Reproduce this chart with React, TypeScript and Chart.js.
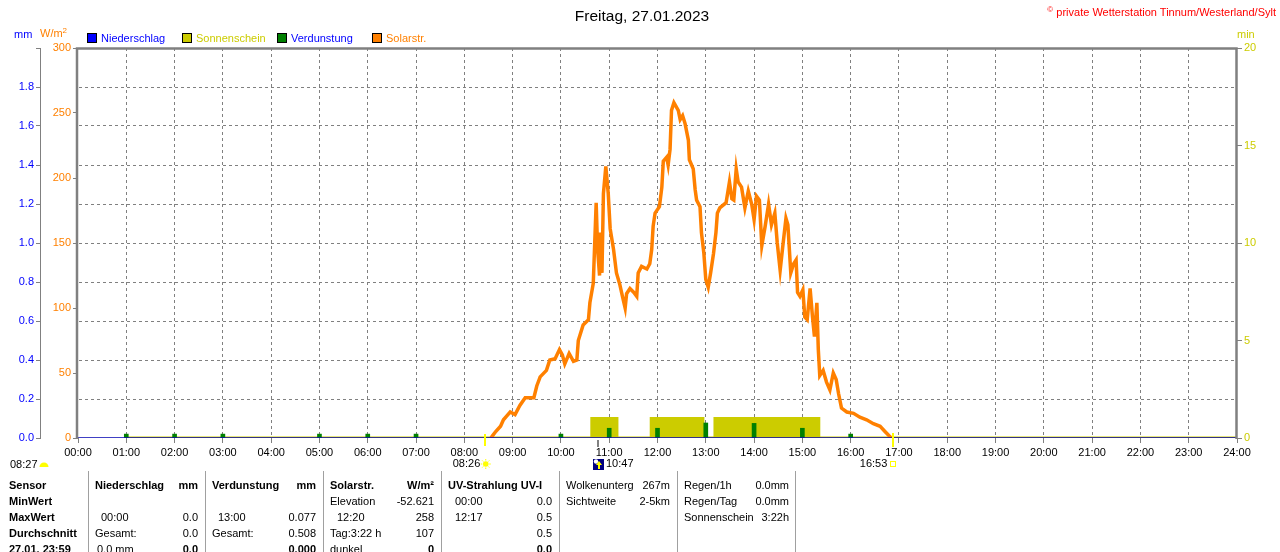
import React, { useEffect, useRef } from 'react';
import { Chart, registerables } from 'chart.js';

Chart.register(...registerables);

const FONT = '"Liberation Sans", Arial, Helvetica, sans-serif';
const FS = 11;

// ---- data (hours of day as decimal) ----
const solarTimes = [
  8.55, 8.59, 8.65, 8.75, 8.81, 8.88, 8.95, 9.05, 9.15, 9.26, 9.44, 9.5, 9.57, 9.7, 9.77, 9.88, 9.97,
  10.03, 10.08, 10.17, 10.26, 10.33, 10.36, 10.46, 10.57, 10.6, 10.67, 10.7, 10.73, 10.76, 10.8, 10.82,
  10.85, 10.88, 10.93, 10.98, 11.02, 11.09, 11.15, 11.22, 11.28, 11.33, 11.36, 11.43, 11.51, 11.57,
  11.6, 11.67, 11.78, 11.84, 11.88, 11.91, 11.95, 12.04, 12.09, 12.12, 12.19, 12.22, 12.26, 12.29,
  12.34, 12.43, 12.47, 12.52, 12.57, 12.64, 12.66, 12.74, 12.78, 12.81, 12.88, 12.91, 12.96, 13.0,
  13.05, 13.1, 13.16, 13.21, 13.24, 13.29, 13.42, 13.49, 13.54, 13.58, 13.63, 13.67, 13.74, 13.81,
  13.88, 13.95, 14.0, 14.05, 14.11, 14.16, 14.23, 14.3, 14.36, 14.43, 14.48, 14.54, 14.59, 14.66,
  14.7, 14.76, 14.82, 14.87, 14.9, 14.95, 15.01, 15.05, 15.1, 15.16, 15.21, 15.25, 15.3, 15.33,
  15.36, 15.43, 15.5, 15.57, 15.64, 15.7, 15.75, 15.81, 15.92, 16.06, 16.19, 16.33, 16.47, 16.61,
  16.71, 16.8, 16.85,
];
const solarValues = [
  0, 2, 5, 9, 14, 17, 20, 18, 25, 31, 31, 40, 47, 52, 60, 61, 68,
  64, 57, 65, 59, 60, 75, 87, 91, 104, 119, 150, 181, 145, 125, 158,
  127, 188, 209, 188, 161, 145, 127, 118, 108, 100, 111, 115, 112, 109,
  127, 132, 130, 134, 145, 163, 173, 178, 193, 213, 216, 210, 222, 252,
  258, 252, 245, 248, 242, 229, 214, 207, 191, 183, 178, 158, 142, 122,
  116, 127, 142, 158, 173, 177, 181, 197, 184, 183, 207, 197, 193, 177,
  190, 180, 168, 186, 183, 148, 163, 180, 164, 173, 150, 129, 146, 169,
  164, 127, 134, 137, 112, 109, 114, 93, 91, 115, 93, 78, 104, 68,
  48, 52, 43, 37, 50, 45, 34, 23, 20, 19, 16, 14, 11, 9,
  5, 1.5, 0,
];

const evapTimes = [1, 2, 3, 5, 6, 7, 10, 11, 12, 13, 14, 15, 16];
const evapValues = [0.02, 0.02, 0.02, 0.02, 0.02, 0.02, 0.02, 0.05, 0.05, 0.077, 0.075, 0.05, 0.02];

const sunStart = [10.64, 11.87, 13.19];
const sunEnd = [11.16, 12.94, 15.34];
const sunMinutes = [1, 1, 1];
const sunSeriesRange = [1, 24];

const precipTimes = [0, 24];
const precipValues = [0, 0];

const markerSunrise = '08:26';
const markerMid = '10:47';
const markerSunset = '16:53';
const dawnLabel = '08:27';

const legendItems = [
  { label: 'Niederschlag', box: '#0000FF', text: '#0000FF', x: 87 },
  { label: 'Sonnenschein', box: '#CCCC00', text: '#CCCC00', x: 182 },
  { label: 'Verdunstung', box: '#008000', text: '#0000FF', x: 277 },
  { label: 'Solarstr.', box: '#FF8000', text: '#FF8000', x: 372 },
];

const separators = [88, 205, 323, 441, 559, 677, 795];
const rowY = [485, 501, 517, 533, 549];

type Cell = { t: string; x: number; r: number; right?: boolean; b?: boolean };
const tableCells: Cell[] = [
  { t: 'Sensor', x: 9, r: 0, b: true },
  { t: 'MinWert', x: 9, r: 1, b: true },
  { t: 'MaxWert', x: 9, r: 2, b: true },
  { t: 'Durchschnitt', x: 9, r: 3, b: true },
  { t: '27.01. 23:59', x: 9, r: 4, b: true },

  { t: 'Niederschlag', x: 95, r: 0, b: true },
  { t: 'mm', x: 198, r: 0, b: true, right: true },
  { t: '00:00', x: 101, r: 2 },
  { t: '0.0', x: 198, r: 2, right: true },
  { t: 'Gesamt:', x: 95, r: 3 },
  { t: '0.0', x: 198, r: 3, right: true },
  { t: '0.0 mm', x: 97, r: 4 },
  { t: '0.0', x: 198, r: 4, right: true, b: true },

  { t: 'Verdunstung', x: 212, r: 0, b: true },
  { t: 'mm', x: 316, r: 0, b: true, right: true },
  { t: '13:00', x: 218, r: 2 },
  { t: '0.077', x: 316, r: 2, right: true },
  { t: 'Gesamt:', x: 212, r: 3 },
  { t: '0.508', x: 316, r: 3, right: true },
  { t: '0.000', x: 316, r: 4, right: true, b: true },

  { t: 'Solarstr.', x: 330, r: 0, b: true },
  { t: 'W/m²', x: 434, r: 0, b: true, right: true },
  { t: 'Elevation', x: 330, r: 1 },
  { t: '-52.621', x: 434, r: 1, right: true },
  { t: '12:20', x: 337, r: 2 },
  { t: '258', x: 434, r: 2, right: true },
  { t: 'Tag:3:22 h', x: 330, r: 3 },
  { t: '107', x: 434, r: 3, right: true },
  { t: 'dunkel', x: 330, r: 4 },
  { t: '0', x: 434, r: 4, right: true, b: true },

  { t: 'UV-Strahlung UV-I', x: 448, r: 0, b: true },
  { t: '00:00', x: 455, r: 1 },
  { t: '0.0', x: 552, r: 1, right: true },
  { t: '12:17', x: 455, r: 2 },
  { t: '0.5', x: 552, r: 2, right: true },
  { t: '0.5', x: 552, r: 3, right: true },
  { t: '0.0', x: 552, r: 4, right: true, b: true },

  { t: 'Wolkenunterg', x: 566, r: 0 },
  { t: '267m', x: 670, r: 0, right: true },
  { t: 'Sichtweite', x: 566, r: 1 },
  { t: '2-5km', x: 670, r: 1, right: true },

  { t: 'Regen/1h', x: 684, r: 0 },
  { t: '0.0mm', x: 789, r: 0, right: true },
  { t: 'Regen/Tag', x: 684, r: 1 },
  { t: '0.0mm', x: 789, r: 1, right: true },
  { t: 'Sonnenschein', x: 684, r: 2 },
  { t: '3:22h', x: 789, r: 2, right: true },
];

const toHours = (s: string) => {
  const [h, m] = s.split(':').map(Number);
  return h + m / 60;
};

function buildSunData() {
  const pts: { x: number; y: number }[] = [{ x: sunSeriesRange[0], y: 0 }];
  for (let i = 0; i < sunStart.length; i++) {
    pts.push({ x: sunStart[i], y: 0 }, { x: sunStart[i], y: sunMinutes[i] }, { x: sunEnd[i], y: sunMinutes[i] }, { x: sunEnd[i], y: 0 });
  }
  pts.push({ x: sunSeriesRange[1], y: 0 });
  return pts;
}

const decorPlugin = {
  id: 'decor',
  afterDatasetsDraw(chart: any) {
    const { ctx, chartArea: ca } = chart;
    ctx.save();
    ctx.strokeStyle = '#808080';
    ctx.lineWidth = 2.5;
    ctx.beginPath();
    ctx.moveTo(ca.left - 1, ca.bottom + 1);
    ctx.lineTo(ca.left - 1, ca.top + 0.5);
    ctx.lineTo(ca.right - 0.5, ca.top + 0.5);
    ctx.lineTo(ca.right - 0.5, ca.bottom + 1);
    ctx.stroke();
    ctx.restore();
  },
  afterDraw(chart: any) {
    const { ctx, chartArea: ca } = chart;
    const xs = chart.scales.x;
    const ly = ca.bottom + 26;
    ctx.save();
    ctx.font = `${FS}px ${FONT}`;
    ctx.textBaseline = 'middle';

    // sunrise
    const xr = xs.getPixelForValue(toHours(markerSunrise));
    ctx.fillStyle = '#FFFF00';
    ctx.fillRect(Math.round(xr) - 1, ca.bottom - 4, 2, 12);
    ctx.fillStyle = '#000';
    ctx.textAlign = 'right';
    ctx.fillText(markerSunrise, xr - 5, ly);
    ctx.fillStyle = '#FFFF00';
    ctx.strokeStyle = '#FFFF00';
    ctx.beginPath();
    ctx.arc(xr + 0.5, ly, 2.8, 0, Math.PI * 2);
    ctx.fill();
    ctx.lineWidth = 1;
    for (let k = 0; k < 8; k++) {
      const a = (k * Math.PI) / 4;
      ctx.beginPath();
      ctx.moveTo(xr + 0.5 + Math.cos(a) * 3.5, ly + Math.sin(a) * 3.5);
      ctx.lineTo(xr + 0.5 + Math.cos(a) * 5, ly + Math.sin(a) * 5);
      ctx.stroke();
    }

    // mid marker
    const xm = Math.round(xs.getPixelForValue(toHours(markerMid)));
    ctx.fillStyle = '#808080';
    ctx.fillRect(xm - 2, ca.bottom + 2, 2, 7);
    ctx.fillStyle = '#000080';
    ctx.fillRect(xm - 6, ly - 5, 11, 11);
    ctx.fillStyle = '#FFFFFF';
    ctx.beginPath();
    ctx.arc(xm - 3, ly - 2.5, 2.2, 0, Math.PI * 2);
    ctx.fill();
    ctx.fillStyle = '#FFFF00';
    ctx.beginPath();
    ctx.moveTo(xm, ly - 3);
    ctx.lineTo(xm + 3, ly + 1);
    ctx.lineTo(xm + 1, ly + 1);
    ctx.lineTo(xm + 1, ly + 5);
    ctx.lineTo(xm - 1, ly + 5);
    ctx.lineTo(xm - 1, ly + 1);
    ctx.lineTo(xm - 3, ly + 1);
    ctx.closePath();
    ctx.fill();
    ctx.fillStyle = '#000';
    ctx.textAlign = 'left';
    ctx.fillText(markerMid, xm + 7, ly);

    // sunset
    const xsu = xs.getPixelForValue(toHours(markerSunset));
    ctx.fillStyle = '#FFFF00';
    ctx.fillRect(Math.round(xsu) - 1, ca.bottom - 5, 2, 14);
    ctx.fillStyle = '#000';
    ctx.textAlign = 'right';
    ctx.fillText(markerSunset, xsu - 6, ly);
    ctx.strokeStyle = '#FFFF00';
    ctx.lineWidth = 1;
    ctx.strokeRect(Math.round(xsu) - 2.5, ly - 2.5, 5, 5);

    // dawn label at far left
    ctx.fillStyle = '#000';
    ctx.textAlign = 'left';
    ctx.fillText(dawnLabel, 10, ly + 1);
    ctx.fillStyle = '#FFFF00';
    ctx.beginPath();
    ctx.arc(44, ly + 3, 4.5, Math.PI, 0);
    ctx.closePath();
    ctx.fill();
    ctx.restore();
  },
};

export default function App() {
  const ref = useRef<HTMLCanvasElement | null>(null);

  useEffect(() => {
    if (!ref.current) return;
    Chart.defaults.font.family = FONT;
    Chart.defaults.font.size = FS;
    const solarData = solarTimes.map((t, i) => ({ x: t, y: solarValues[i] }));
    const evapData = evapTimes.map((t, i) => ({ x: t, y: evapValues[i] }));
    const precipData = precipTimes.map((t, i) => ({ x: t, y: precipValues[i] }));

    const chart = new Chart(ref.current, {
      type: 'line',
      data: {
        datasets: [
          {
            label: 'Niederschlag',
            data: precipData,
            yAxisID: 'yMM',
            borderColor: '#0000B0',
            borderWidth: 1.5,
            pointRadius: 0,
            fill: false,
          },
          {
            type: 'bar',
            label: 'Verdunstung',
            data: evapData,
            yAxisID: 'yMM',
            backgroundColor: '#008000',
            borderWidth: 0,
            barThickness: 4,
          } as any,
          {
            label: 'Solarstr.',
            data: solarData,
            yAxisID: 'yW',
            borderColor: '#FF8000',
            borderWidth: 3.5,
            pointRadius: 0,
            tension: 0,
            fill: false,
          },
          {
            label: 'Sonnenschein',
            data: buildSunData(),
            yAxisID: 'yMin',
            borderColor: '#CCCC00',
            backgroundColor: '#CCCC00',
            borderWidth: 3,
            pointRadius: 0,
            fill: 'origin',
          },
        ],
      },
      options: {
        animation: false,
        responsive: false,
        maintainAspectRatio: false,
        events: [],
        layout: { padding: { top: 48, left: 0, right: 0, bottom: 0 } },
        plugins: { legend: { display: false }, tooltip: { enabled: false }, title: { display: false } },
        scales: {
          x: {
            type: 'linear',
            min: 0,
            max: 24,
            offset: false,
            afterFit: (s: any) => {
              s.height = 552 - 438;
            },
            ticks: {
              stepSize: 1,
              autoSkip: false,
              maxRotation: 0,
              color: '#000',
              padding: 3,
              font: { size: FS, family: FONT },
              callback: (v: any) => String(v).padStart(2, '0') + ':00',
            },
            grid: {
              offset: false,
              color: (c: any) => (c.tick && (c.tick.value === 0 || c.tick.value === 24) ? 'rgba(0,0,0,0)' : '#808080'),
              tickColor: '#808080',
              tickLength: 5,
              lineWidth: 1,
            },
            border: { display: false, dash: [3, 3] },
          },
          yMM: {
            type: 'linear',
            position: 'left',
            weight: 2,
            min: 0,
            max: 2,
            afterFit: (s: any) => {
              s.width = 40;
            },
            ticks: {
              stepSize: 0.2,
              color: '#0000FF',
              padding: 2,
              font: { size: FS, family: FONT },
              callback: (v: any) => (Number(v) >= 1.99 ? '' : Number(v).toFixed(1)),
            },
            grid: {
              color: (c: any) => (c.tick && c.tick.value > 0.01 && c.tick.value < 1.99 ? '#808080' : 'rgba(0,0,0,0)'),
              tickColor: '#808080',
              tickLength: 4,
              lineWidth: 1,
            },
            border: { display: true, color: '#808080', width: 1, dash: [3, 3] },
          },
          yW: {
            type: 'linear',
            position: 'left',
            weight: 1,
            min: 0,
            max: 300,
            afterFit: (s: any) => {
              s.width = 38;
            },
            ticks: {
              stepSize: 50,
              color: '#FF8000',
              padding: 2,
              font: { size: FS, family: FONT },
            },
            grid: { drawOnChartArea: false, tickColor: '#808080', tickLength: 5 },
            border: { display: false },
          },
          yMin: {
            type: 'linear',
            position: 'right',
            min: 0,
            max: 20,
            afterFit: (s: any) => {
              s.width = 43;
            },
            ticks: {
              stepSize: 5,
              color: '#CCCC00',
              padding: 2,
              font: { size: FS, family: FONT },
            },
            grid: { drawOnChartArea: false, tickColor: '#808080', tickLength: 5 },
            border: { display: false },
          },
        },
      } as any,
      plugins: [decorPlugin],
    });
    return () => chart.destroy();
  }, []);

  const abs = (extra: React.CSSProperties): React.CSSProperties => ({ position: 'absolute', whiteSpace: 'nowrap', lineHeight: '14px', ...extra });

  return (
    <div
      style={{
        position: 'absolute',
        left: 0,
        top: 0,
        width: 1280,
        height: 552,
        overflow: 'hidden',
        background: '#fff',
        fontFamily: FONT,
        fontSize: FS,
        color: '#000',
      }}
    >
      <canvas ref={ref} width={1280} height={552} style={{ position: 'absolute', left: 0, top: 0, width: 1280, height: 552 }} />
      <div style={abs({ left: 0, width: 1284, top: 7, textAlign: 'center', fontSize: 15.5, lineHeight: '18px' })}>Freitag, 27.01.2023</div>
      <div style={abs({ right: 4, top: 5, color: '#FF0000' })}>
        <span style={{ fontSize: 8, verticalAlign: 'top', lineHeight: '10px' }}>©</span> private Wetterstation Tinnum/Westerland/Sylt
      </div>
      <div style={abs({ left: 14, top: 27, color: '#0000FF' })}>mm</div>
      <div style={abs({ left: 40, top: 26, color: '#FF8000' })}>
        W/m<span style={{ fontSize: 8, verticalAlign: 'top', lineHeight: '10px' }}>2</span>
      </div>
      <div style={abs({ left: 1237, top: 27, color: '#CCCC00' })}>min</div>
      {legendItems.map((it) => (
        <React.Fragment key={it.label}>
          <div
            style={{
              position: 'absolute',
              left: it.x,
              top: 33,
              width: 10,
              height: 10,
              boxSizing: 'border-box',
              border: '1px solid #000',
              background: it.box,
            }}
          />
          <div style={abs({ left: it.x + 14, top: 31, color: it.text })}>{it.label}</div>
        </React.Fragment>
      ))}
      {separators.map((x) => (
        <div key={x} style={{ position: 'absolute', left: x, top: 471, width: 1, height: 90, background: '#A0A0A0' }} />
      ))}
      {tableCells.map((c, i) => (
        <div
          key={i}
          style={abs(
            c.right
              ? { right: 1280 - c.x, top: rowY[c.r] - 7, fontWeight: c.b ? 'bold' : 'normal' }
              : { left: c.x, top: rowY[c.r] - 7, fontWeight: c.b ? 'bold' : 'normal' }
          )}
        >
          {c.t}
        </div>
      ))}
    </div>
  );
}
